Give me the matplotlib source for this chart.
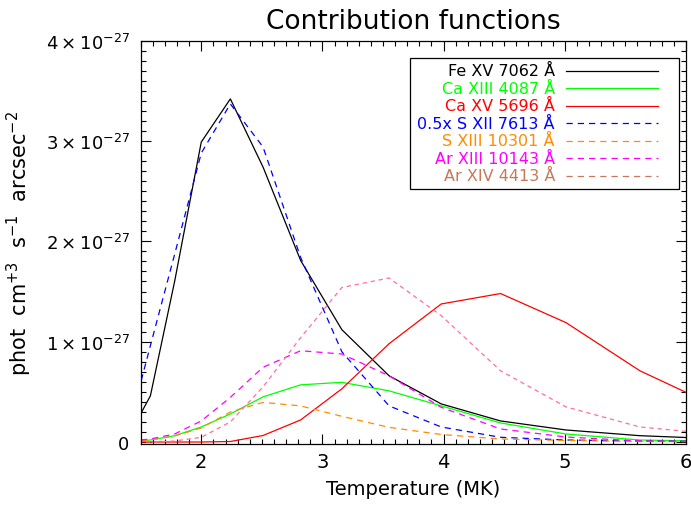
import numpy as np
import matplotlib
matplotlib.use('Agg')
import matplotlib.pyplot as plt
from matplotlib.ticker import MultipleLocator, FuncFormatter

# temperature grid (MK), log T step 0.05
temp = [1.41, 1.58, 1.78, 2.00, 2.24, 2.51, 2.82, 3.16, 3.55, 3.98, 4.47, 5.01, 5.62, 6.31]

# contribution functions in units of 1e-27 phot cm^3 s^-1 arcsec^-2
fe15_7062 = [0.08, 0.46, 1.60, 2.99, 3.42, 2.74, 1.81, 1.12, 0.66, 0.38, 0.21, 0.12, 0.063, 0.03]
ca13_4087 = [0.005, 0.02, 0.063, 0.15, 0.28, 0.45, 0.57, 0.595, 0.51, 0.36, 0.19, 0.08, 0.02, 0.005]
ca15_5696 = [0.0, 0.0, 0.0, 0.0, 0.005, 0.065, 0.22, 0.53, 0.98, 1.376, 1.48, 1.19, 0.71, 0.32]
s12_7613 = [0.18, 0.96, 1.87, 2.88, 3.37, 2.94, 1.84, 0.90, 0.36, 0.15, 0.047, 0.02, 0.01, 0.005]  # already x0.5
s13_10301 = [0.005, 0.02, 0.06, 0.14, 0.30, 0.395, 0.36, 0.256, 0.146, 0.075, 0.03, 0.015, 0.005, 0.002]
ar13_10143 = [0.01, 0.03, 0.08, 0.21, 0.445, 0.745, 0.91, 0.877, 0.66, 0.346, 0.13, 0.05, 0.01, 0.003]
ar14_4413 = [0.0, 0.0, 0.01, 0.047, 0.20, 0.55, 1.04, 1.54, 1.635, 1.26, 0.71, 0.35, 0.15, 0.07]

labels = ['Fe XV 7062 Å', 'Ca XIII 4087 Å', 'Ca XV 5696 Å', '0.5x S XII 7613 Å',
          'S XIII 10301 Å', 'Ar XIII 10143 Å', 'Ar XIV 4413 Å']
series = [fe15_7062, ca13_4087, ca15_5696, s12_7613, s13_10301, ar13_10143, ar14_4413]
colors = ['black', '#00ff00', '#ff0000', '#0000ff', '#ff8c00', '#ff00ff', '#ff6fa0']
legend_colors = ['black', '#00ff00', '#ff0000', '#0000ff', '#ff8c00', '#ff00ff', '#c47a5a']
styles = ['-', '-', '-', (0, (5, 4)), (0, (5, 4)), (0, (5, 4)), (0, (3.5, 3))]

fig = plt.figure(figsize=(6.91, 5.10), dpi=100)
ax = fig.add_axes([0.2036, 0.1284, 0.7891, 0.7898])

for y, c, ls in zip(series, colors, styles):
    ax.plot(temp, y, color=c, linestyle=ls, linewidth=0.9)

ax.set_xlim(1.5, 6)
ax.set_ylim(-0.015, 4.0)

ax.xaxis.set_major_locator(MultipleLocator(1))
ax.xaxis.set_minor_locator(MultipleLocator(0.1))
ax.yaxis.set_major_locator(MultipleLocator(1))
ax.yaxis.set_minor_locator(MultipleLocator(0.1))


def fmt_y(v, pos):
    if abs(v) < 1e-9:
        return '0'
    return r'$%d\times10^{-27}$' % round(v)


ax.yaxis.set_major_formatter(FuncFormatter(fmt_y))
ax.tick_params(which='both', direction='in', top=True, right=True, width=0.8)
ax.tick_params(which='major', length=7)
ax.tick_params(which='minor', length=3.5)
ax.tick_params(axis='x', labelsize=14, pad=6)
ax.tick_params(axis='y', labelsize=13, pad=8)
for sp in ax.spines.values():
    sp.set_linewidth(0.9)

ax.set_xlabel('Temperature (MK)', fontsize=14, labelpad=6)
ax.set_ylabel(r'phot  cm$^{+3}$  s$^{-1}$  arcsec$^{-2}$', fontsize=15, labelpad=8)
ax.set_title('Contribution functions', fontsize=19, pad=9)

# hand-drawn legend box, IDL style (right aligned text, line sample on the right)
ax_w, ax_h = 545.3, 402.8
def to_ax(px, py):
    return (px - 140.7) / ax_w, (444.5 - py) / ax_h

x0, y0 = to_ax(410, 190)
x1, y1 = to_ax(679, 59)
ax.add_patch(plt.Rectangle((x0, y0), x1 - x0, y1 - y0, transform=ax.transAxes,
                           facecolor='white', edgecolor='black', linewidth=0.9, zorder=5))
for i, (lab, c, ls) in enumerate(zip(labels, legend_colors, styles)):
    row_y = 71.7 + i * 17.5
    tx, ty = to_ax(555, row_y)
    ax.text(tx, ty, lab, color=c, fontsize=11.5, ha='right', va='center',
            transform=ax.transAxes, zorder=6)
    lx0, ly = to_ax(566, row_y)
    lx1, _ = to_ax(658, row_y)
    lstyle = ls if i != 6 else (0, (5, 4))
    ax.plot([lx0, lx1], [ly, ly], color=c, linestyle=lstyle, linewidth=0.9,
            transform=ax.transAxes, zorder=6)

plt.savefig('out.png', dpi=100)
